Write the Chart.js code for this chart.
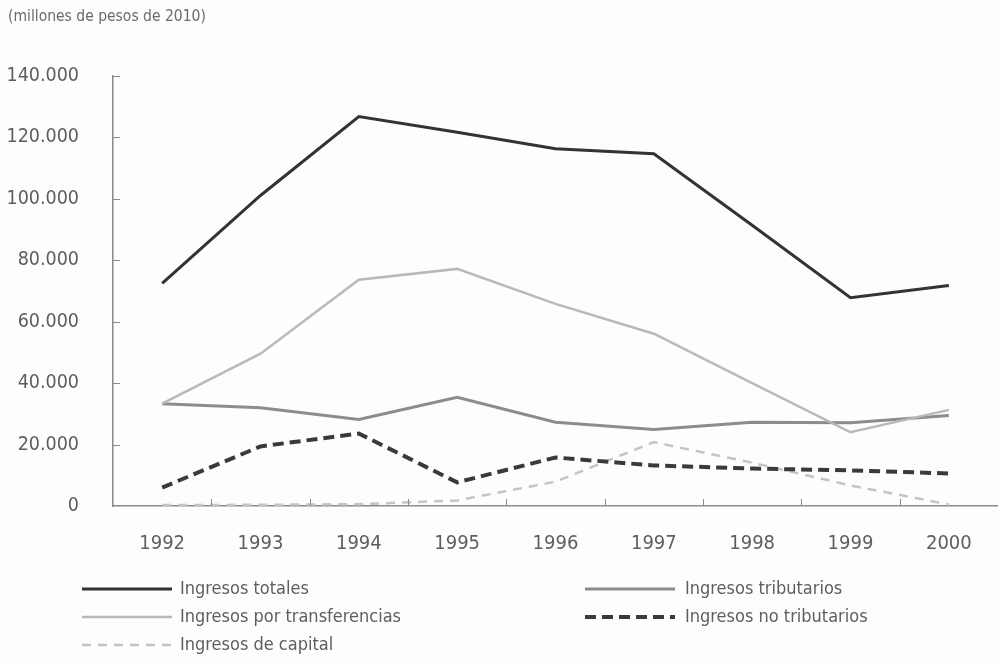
<!DOCTYPE html>
<html>
<head>
<meta charset="utf-8">
<script src="https://cdn.jsdelivr.net/npm/chart.js@4/dist/chart.umd.min.js"></script>
<style>
  html, body { margin: 0; padding: 0; background: #fdfdfb; }
  #wrap { width: 998px; height: 662px; position: relative; }
</style>
</head>
<body>
<div id="wrap"><canvas id="mycanvas" width="998" height="662"></canvas></div>
<script>
var years = ['1992', '1993', '1994', '1995', '1996', '1997', '1998', '1999', '2000'];

// millones de pesos de 2010
var totales        = [72500, 101100, 126800, 121700, 116300, 114700, 91400, 67800, 71800];
var transferencias = [33300, 49600, 73700, 77200, 65800, 56100, 40000, 24000, 31300];
var tributarios    = [33300, 32000, 28200, 35400, 27300, 24900, 27300, 27100, 29500];
var noTributarios  = [6000, 19400, 23600, 7700, 15800, 13200, 12200, 11600, 10600];
var capital        = [300, 400, 600, 1800, 7900, 20800, 14100, 6700, 500];

var yTicks = [0, 20000, 40000, 60000, 80000, 100000, 120000, 140000];

var FONT = "'Liberation Sans Narrow', 'DejaVu Sans Condensed', 'Liberation Sans', sans-serif";
var TEXT = '#5e5e5e';

function miles(v) {
	return String(v).replace(/\B(?=(\d{3})+(?!\d))/g, '.');
}

// legend layout: two columns, three rows
var legendSlots = [
	{ ds: 0, col: 0, row: 0 },
	{ ds: 2, col: 1, row: 0 },
	{ ds: 1, col: 0, row: 1 },
	{ ds: 3, col: 1, row: 1 },
	{ ds: 4, col: 0, row: 2 }
];

var extras = {
	id: 'extras',
	afterDraw: function(chart) {
		var ctx = chart.ctx;
		var x = chart.scales.x, y = chart.scales.y;
		var area = chart.chartArea;
		ctx.save();

		// unit note
		ctx.fillStyle = '#6a6a6a';
		ctx.font = '15.5px ' + FONT;
		ctx.textBaseline = 'middle';
		ctx.textAlign = 'left';
		ctx.fillText('(millones de pesos de 2010)', 8, 17);

		// inner tick marks
		ctx.strokeStyle = '#8a8a8a';
		ctx.lineWidth = 1;
		ctx.beginPath();
		for (var i = 1; i < years.length; i++) {
			var px = Math.round((x.getPixelForValue(i - 1) + x.getPixelForValue(i)) / 2) + 0.5;
			ctx.moveTo(px, area.bottom);
			ctx.lineTo(px, area.bottom - 7);
		}
		yTicks.forEach(function(t) {
			if (t === 0) return;
			var py = Math.round(y.getPixelForValue(t)) + 0.5;
			ctx.moveTo(area.left, py);
			ctx.lineTo(area.left + 7, py);
		});
		ctx.stroke();

		// legend
		var colLine = [[82, 172], [585, 675]];
		var colText = [180, 685];
		var rowY = [589, 617, 645];
		ctx.font = '18px ' + FONT;
		legendSlots.forEach(function(s) {
			var ds = chart.data.datasets[s.ds];
			var ly = rowY[s.row];
			ctx.strokeStyle = ds.borderColor;
			ctx.lineWidth = ds.borderWidth;
			ctx.setLineDash(ds.borderDash || []);
			ctx.beginPath();
			ctx.moveTo(colLine[s.col][0], ly);
			ctx.lineTo(colLine[s.col][1], ly);
			ctx.stroke();
			ctx.setLineDash([]);
			ctx.fillStyle = TEXT;
			ctx.fillText(ds.label, colText[s.col], ly);
		});
		ctx.restore();
	}
};

var ctx = document.getElementById('mycanvas');

var chart = new Chart(ctx, {
	type: 'line',
	data: {
		labels: years,
		datasets: [
			{
				label: 'Ingresos totales',
				data: totales,
				borderColor: '#333333',
				borderWidth: 3
			},
			{
				label: 'Ingresos por transferencias',
				data: transferencias,
				borderColor: '#b9b9b9',
				borderWidth: 2.5
			},
			{
				label: 'Ingresos tributarios',
				data: tributarios,
				borderColor: '#8c8c8c',
				borderWidth: 3
			},
			{
				label: 'Ingresos no tributarios',
				data: noTributarios,
				borderColor: '#3a3a3a',
				borderWidth: 4,
				borderDash: [11, 6]
			},
			{
				label: 'Ingresos de capital',
				data: capital,
				borderColor: '#c4c4c4',
				borderWidth: 2.5,
				borderDash: [9, 7]
			}
		]
	},
	options: {
		responsive: false,
		animation: false,
		events: [],
		layout: { padding: { top: 76, right: 0, bottom: 106, left: 0 } },
		elements: {
			point: { radius: 0 },
			line: { tension: 0, borderCapStyle: 'butt', borderJoinStyle: 'miter' }
		},
		plugins: {
			legend: { display: false },
			tooltip: { enabled: false }
		},
		scales: {
			x: {
				offset: true,
				grid: { display: false, drawTicks: false },
				border: { display: true, color: '#8a8a8a', width: 1.5 },
				ticks: {
					color: TEXT,
					font: { family: FONT, size: 20 },
					padding: 26,
					maxRotation: 0
				},
				afterFit: function(scale) { scale.height = 50; }
			},
			y: {
				min: 0,
				max: 140000,
				afterBuildTicks: function(scale) {
					scale.ticks = yTicks.map(function(v) { return { value: v }; });
				},
				grid: { display: false, drawTicks: false },
				border: { display: true, color: '#8a8a8a', width: 1.5 },
				ticks: {
					color: TEXT,
					font: { family: FONT, size: 19.5 },
					padding: 34,
					callback: function(v) { return miles(v); }
				},
				afterFit: function(scale) { scale.width = 113; }
			}
		}
	},
	plugins: [extras]
});
</script>
</body>
</html>
